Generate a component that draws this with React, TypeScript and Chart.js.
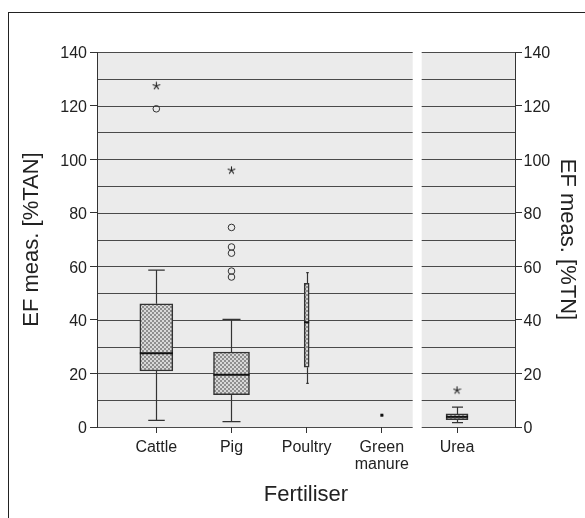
import React, { useEffect, useRef } from 'react';
import { Chart, registerables } from 'chart.js';

Chart.register(...registerables);

// ---- data ----
const categories: (string | string[])[] = ['Cattle', 'Pig', 'Poultry', ['Green', 'manure'], 'Urea'];
const xPositions = [1, 2, 3, 4, 5];
const whiskerLow = [2.5, 2.0, 16.3, 4.4, 1.6];
const q1 = [20.9, 12.1, 22.3, 4.4, 2.7];
const median = [27.5, 19.5, 39.1, 4.4, 3.8];
const q3 = [46.0, 28.0, 53.6, 4.4, 4.9];
const whiskerHigh = [58.6, 40.2, 57.6, 4.4, 7.4];
const outlierX = [1, 2, 2, 2, 2, 2];
const outlierY = [118.8, 74.5, 67.2, 64.9, 58.2, 56.0];
const extremeX = [1, 2, 5];
const extremeY = [127.4, 95.9, 13.8];
const yMin = 0;
const yMax = 140;
const yLabelStep = 20;
const yGridStep = 10;

// ---- styles ----
const BOX_WIDTHS = [33, 36, 5, 3, 22];
const X_RANGE = [0.211, 5.771];
const PANEL_GAP = [4.41, 4.53];
const FONT = "'Liberation Sans', Arial, sans-serif";

function makePattern(): CanvasPattern | string {
  const c = document.createElement('canvas');
  c.width = 4;
  c.height = 4;
  const g = c.getContext('2d');
  if (!g) return '#b0b0b0';
  g.fillStyle = '#d8d8d8';
  g.fillRect(0, 0, 4, 4);
  g.fillStyle = '#8e8e8e';
  g.fillRect(0, 0, 2, 2);
  g.fillRect(2, 2, 2, 2);
  const p = g.createPattern(c, 'repeat');
  return p || '#b0b0b0';
}

function makeStar(): HTMLCanvasElement {
  const c = document.createElement('canvas');
  c.width = 9;
  c.height = 9;
  const g = c.getContext('2d');
  if (g) {
    g.strokeStyle = '#222';
    g.lineWidth = 1.1;
    g.lineCap = 'round';
    const cx = 4.5;
    const cy = 4.7;
    const r = 3.6;
    g.beginPath();
    for (let k = 0; k < 5; k++) {
      const a = -Math.PI / 2 + (k * 2 * Math.PI) / 5;
      g.moveTo(cx, cy);
      g.lineTo(cx + r * Math.cos(a), cy + r * Math.sin(a));
    }
    g.stroke();
  }
  return c;
}

const panelPlugin = {
  id: 'panelPlugin',
  beforeDraw(chart: any) {
    const { ctx, chartArea: ca, scales } = chart;
    const x = scales.x;
    const y = scales.y;
    const gapL = x.getPixelForValue(PANEL_GAP[0]);
    const gapR = x.getPixelForValue(PANEL_GAP[1]);
    const panels = [
      [ca.left, gapL],
      [gapR, ca.right],
    ];
    ctx.save();
    ctx.fillStyle = '#ffffff';
    ctx.fillRect(0, 0, chart.width, chart.height);
    ctx.strokeStyle = '#222';
    ctx.lineWidth = 1;
    ctx.strokeRect(8.5, 12.5, 2000, 2000);
    ctx.fillStyle = '#ebebeb';
    panels.forEach(([l, r]) => ctx.fillRect(l, ca.top, r - l, ca.bottom - ca.top));
    ctx.strokeStyle = '#4a4a4a';
    ctx.lineWidth = 1;
    for (let v = yMin; v <= yMax; v += yGridStep) {
      const py = Math.round(y.getPixelForValue(v)) + 0.5;
      panels.forEach(([l, r]) => {
        ctx.beginPath();
        ctx.moveTo(l, py);
        ctx.lineTo(r, py);
        ctx.stroke();
      });
    }
    ctx.restore();
  },
};

const boxPlugin = {
  id: 'boxPlugin',
  beforeDatasetsDraw(chart: any) {
    const { ctx, scales } = chart;
    const x = scales.x;
    const y = scales.y;
    ctx.save();
    ctx.strokeStyle = '#333';
    ctx.lineWidth = 1.2;
    xPositions.forEach((xv, i) => {
      if (whiskerHigh[i] === q3[i] && whiskerLow[i] === q1[i]) return;
      const px = Math.round(x.getPixelForValue(xv)) + 0.5;
      const cap = BOX_WIDTHS[i] / 4;
      const yl = y.getPixelForValue(whiskerLow[i]);
      const y1 = y.getPixelForValue(q1[i]);
      const y3 = y.getPixelForValue(q3[i]);
      const yh = y.getPixelForValue(whiskerHigh[i]);
      ctx.beginPath();
      ctx.moveTo(px, yl);
      ctx.lineTo(px, y1);
      ctx.moveTo(px, y3);
      ctx.lineTo(px, yh);
      ctx.moveTo(px - cap, yl);
      ctx.lineTo(px + cap, yl);
      ctx.moveTo(px - cap, yh);
      ctx.lineTo(px + cap, yh);
      ctx.stroke();
    });
    ctx.restore();
  },
  afterDatasetsDraw(chart: any) {
    const { ctx, scales } = chart;
    const x = scales.x;
    const y = scales.y;
    ctx.save();
    ctx.strokeStyle = '#111';
    xPositions.forEach((xv, i) => {
      const px = x.getPixelForValue(xv);
      const w = BOX_WIDTHS[i] / 2;
      const ym = y.getPixelForValue(median[i]);
      ctx.lineWidth = q1[i] === q3[i] ? 3 : 2;
      ctx.beginPath();
      ctx.moveTo(px - w, ym);
      ctx.lineTo(px + w, ym);
      ctx.stroke();
    });
    ctx.restore();
  },
};

export default function App() {
  const ref = useRef<HTMLCanvasElement | null>(null);

  useEffect(() => {
    if (!ref.current) return;
    const pattern = makePattern();
    const star = makeStar();

    const boxDatasets = xPositions.map((xv, i) => ({
      type: 'bar' as const,
      data: [{ x: xv, y: [q1[i], q3[i]] }],
      backgroundColor: pattern,
      borderColor: '#333',
      borderWidth: q1[i] === q3[i] ? 0 : 1.5,
      borderSkipped: false,
      grouped: false,
      maxBarThickness: BOX_WIDTHS[i],
      barPercentage: 1,
      categoryPercentage: 1,
      xAxisID: 'x',
      yAxisID: 'y',
    }));

    const outlierDataset = {
      type: 'scatter' as const,
      data: outlierX.map((xv, i) => ({ x: xv, y: outlierY[i] })),
      pointStyle: 'circle',
      pointRadius: 3.3,
      pointBorderColor: '#333',
      pointBackgroundColor: 'rgba(0,0,0,0)',
      pointBorderWidth: 1,
      showLine: false,
      xAxisID: 'x',
      yAxisID: 'y',
    };

    const extremeDataset = {
      type: 'scatter' as const,
      data: extremeX.map((xv, i) => ({ x: xv, y: extremeY[i] })),
      pointStyle: star,
      pointRadius: 4,
      showLine: false,
      xAxisID: 'x',
      yAxisID: 'y',
    };

    const yAxisCommon = {
      min: yMin,
      max: yMax,
      grid: {
        drawOnChartArea: false,
        drawTicks: true,
        tickLength: 7,
        color: '#333',
        tickColor: '#333',
      },
      border: { display: true, color: '#333', width: 1 },
    };

    const chart = new Chart(ref.current, {
      type: 'bar',
      data: { datasets: [...boxDatasets, outlierDataset, extremeDataset] as any },
      options: {
        animation: false,
        responsive: false,
        devicePixelRatio: 1,
        layout: { padding: { top: 52, left: 0, right: 0, bottom: 0 } },
        plugins: {
          legend: { display: false },
          tooltip: { enabled: false },
        },
        scales: {
          x: {
            type: 'linear',
            min: X_RANGE[0],
            max: X_RANGE[1],
            offset: false,
            grid: {
              offset: false,
              drawOnChartArea: false,
              drawTicks: true,
              tickLength: 6,
              color: '#333',
              tickColor: '#333',
            },
            border: { display: false },
            afterBuildTicks: (scale: any) => {
              scale.ticks = xPositions.map((v) => ({ value: v }));
            },
            afterFit: (scale: any) => {
              scale.height = 91;
            },
            ticks: {
              autoSkip: false,
              maxRotation: 0,
              minRotation: 0,
              padding: 6,
              color: '#222',
              font: { family: FONT, size: 16, lineHeight: 1.05 },
              callback: (value: any) => {
                const i = xPositions.indexOf(Number(value));
                return i >= 0 ? (categories[i] as any) : '';
              },
            },
            title: {
              display: true,
              text: 'Fertiliser',
              color: '#222',
              font: { family: FONT, size: 22, lineHeight: 1.2 },
              padding: { top: 0, bottom: 10 },
            },
          },
          y: {
            ...yAxisCommon,
            position: 'left',
            afterFit: (scale: any) => {
              scale.width = 97;
            },
            ticks: {
              stepSize: yLabelStep,
              padding: 3,
              labelOffset: 2,
              color: '#222',
              font: { family: FONT, size: 16 },
            },
            title: {
              display: true,
              text: 'EF meas. [%TAN]',
              color: '#222',
              font: { family: FONT, size: 22, lineHeight: 1.2 },
              padding: { top: 19, bottom: 0 },
            },
          },
          y2: {
            ...yAxisCommon,
            position: 'right',
            afterFit: (scale: any) => {
              scale.width = 70;
            },
            ticks: {
              stepSize: yLabelStep,
              padding: 1.5,
              labelOffset: 2,
              color: '#222',
              font: { family: FONT, size: 16 },
            },
            title: {
              display: true,
              text: 'EF meas. [%TN]',
              color: '#222',
              font: { family: FONT, size: 22, lineHeight: 1.2 },
              padding: { top: 5, bottom: 0 },
            },
          },
        },
      } as any,
      plugins: [panelPlugin, boxPlugin],
    });

    return () => chart.destroy();
  }, []);

  return (
    <div style={{ position: 'absolute', left: 0, top: 0, width: 585, height: 518 }}>
      <canvas ref={ref} width={585} height={518} style={{ width: 585, height: 518, display: 'block' }} />
    </div>
  );
}
